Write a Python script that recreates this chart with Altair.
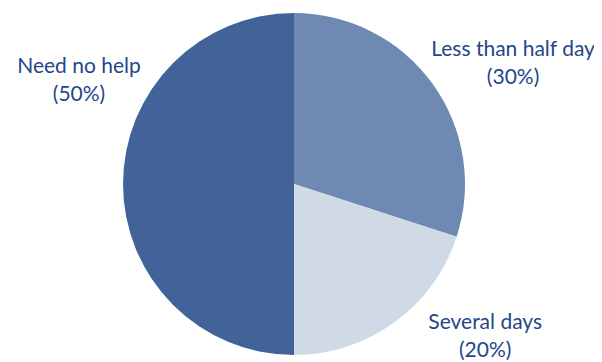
import math
import altair as alt
import pandas as pd

categories = ["Less than half day", "Several days", "Need no help"]
values = [30, 20, 50]
colors = ["#6e8ab3", "#d0dae7", "#42629a"]

df = pd.DataFrame({
    "cat": categories,
    "value": values,
    "order": list(range(len(categories))),
    "label": [f"{c}\n({v}%)" for c, v in zip(categories, values)],
})

FONT = "Lato"
TEXT_COLOR = "#244689"

base = alt.Chart(df)

arc = base.mark_arc(radius=171, strokeWidth=0).encode(
    theta=alt.Theta("value:Q", stack=True, scale=alt.Scale(domain=[0, 100])),
    color=alt.Color("cat:N", scale=alt.Scale(domain=categories, range=colors), legend=None),
    order=alt.Order("order:Q"),
)

offsets = {
    "Less than half day": (33, 1),
    "Several days": (56, -47),
    "Need no help": (15, -117),
}

layers = [arc]
for c in categories:
    dx, dy = offsets[c]
    t = (
        base.transform_window(cum="sum(value)", sort=[alt.SortField("order")])
        .transform_calculate(mid="datum.cum - datum.value / 2")
        .transform_filter(alt.datum.cat == c)
        .mark_text(
            radius=230, dx=dx, dy=dy, fontSize=21, font=FONT, color=TEXT_COLOR,
            lineBreak="\n", lineHeight=28, align="center", baseline="middle",
        )
        .encode(
            theta=alt.Theta("mid:Q", scale=alt.Scale(domain=[0, 100])),
            text="label:N",
        )
    )
    layers.append(t)

chart = (
    alt.layer(*layers)
    .properties(
        width=572, height=352, autosize="none",
        padding={"left": 0, "top": 0, "right": 14, "bottom": 0},
        background="white",
    )
    .configure_view(strokeWidth=0)
)

chart.save("out.html", embed_options={"renderer": "svg", "actions": False})
